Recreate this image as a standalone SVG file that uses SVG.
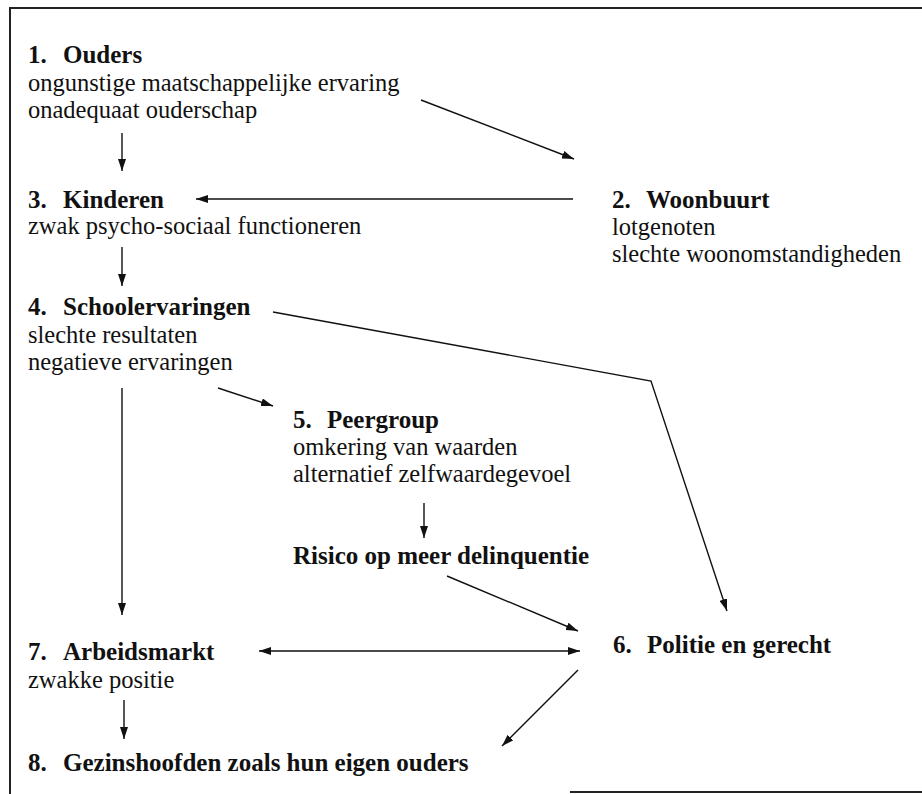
<svg xmlns="http://www.w3.org/2000/svg" width="922" height="794" viewBox="0 0 922 794">
  <style>
    text { font-family: "Liberation Serif", "Times New Roman", serif; fill: #111; }
    .t { font-size: 25px; font-weight: bold; }
    .s { font-size: 24.5px; }
    .c { stroke: #111; stroke-width: 1.4; fill: none; }
    .frame { stroke: #222; stroke-width: 2; fill: none; }
  </style>
  <defs>
    <marker id="ah" viewBox="0 0 12 8" refX="12" refY="4" markerWidth="12" markerHeight="8" markerUnits="userSpaceOnUse" orient="auto-start-reverse">
      <path d="M0,0 L12,4 L0,8 z" fill="#111"/>
    </marker>
  </defs>
  <rect width="922" height="794" fill="#fff"/>
  <g id="frame">
    <path class="frame" d="M10,794 L10,8 L922,8"/>
    <path class="frame" d="M570,792 L922,792"/>
  </g>
  <g id="node1">
    <text class="t" x="28" y="63">1.<tspan x="63">Ouders</tspan></text>
    <text class="s" x="28" y="91">ongunstige maatschappelijke ervaring</text>
    <text class="s" x="28" y="118">onadequaat ouderschap</text>
  </g>
  <g id="node2">
    <text class="t" x="612" y="208">2.<tspan x="646">Woonbuurt</tspan></text>
    <text class="s" x="612" y="235">lotgenoten</text>
    <text class="s" x="612" y="262">slechte woonomstandigheden</text>
  </g>
  <g id="node3">
    <text class="t" x="28" y="208">3.<tspan x="63">Kinderen</tspan></text>
    <text class="s" x="28" y="234">zwak psycho-sociaal functioneren</text>
  </g>
  <g id="node4">
    <text class="t" x="28" y="315">4.<tspan x="63">Schoolervaringen</tspan></text>
    <text class="s" x="28" y="343">slechte resultaten</text>
    <text class="s" x="28" y="370">negatieve ervaringen</text>
  </g>
  <g id="node5">
    <text class="t" x="293" y="428">5.<tspan x="327">Peergroup</tspan></text>
    <text class="s" x="293" y="455">omkering van waarden</text>
    <text class="s" x="293" y="482">alternatief zelfwaardegevoel</text>
  </g>
  <g id="risk">
    <text class="t" x="293" y="564">Risico op meer delinquentie</text>
  </g>
  <g id="node6">
    <text class="t" x="613" y="653">6.<tspan x="647">Politie en gerecht</tspan></text>
  </g>
  <g id="node7">
    <text class="t" x="28" y="660">7.<tspan x="63">Arbeidsmarkt</tspan></text>
    <text class="s" x="28" y="688">zwakke positie</text>
  </g>
  <g id="node8">
    <text class="t" x="28" y="771">8.<tspan x="63">Gezinshoofden zoals hun eigen ouders</tspan></text>
  </g>
  <g id="connectors">
    <line class="c" x1="122" y1="133" x2="122" y2="171" marker-end="url(#ah)"/>
    <line class="c" x1="421" y1="100" x2="574" y2="159" marker-end="url(#ah)"/>
    <line class="c" x1="573" y1="199" x2="196" y2="199" marker-end="url(#ah)"/>
    <line class="c" x1="122" y1="247" x2="122" y2="286" marker-end="url(#ah)"/>
    <line class="c" x1="218" y1="388" x2="273" y2="406" marker-end="url(#ah)"/>
    <polyline class="c" points="273,312 651,381 727,611" marker-end="url(#ah)"/>
    <line class="c" x1="122" y1="388" x2="122" y2="615" marker-end="url(#ah)"/>
    <line class="c" x1="424" y1="503" x2="424" y2="538" marker-end="url(#ah)"/>
    <line class="c" x1="447" y1="576" x2="578" y2="631" marker-end="url(#ah)"/>
    <line class="c" x1="259" y1="651" x2="580" y2="651" marker-start="url(#ah)" marker-end="url(#ah)"/>
    <line class="c" x1="124" y1="700" x2="124" y2="739" marker-end="url(#ah)"/>
    <line class="c" x1="578" y1="670" x2="502" y2="746" marker-end="url(#ah)"/>
  </g>
</svg>
